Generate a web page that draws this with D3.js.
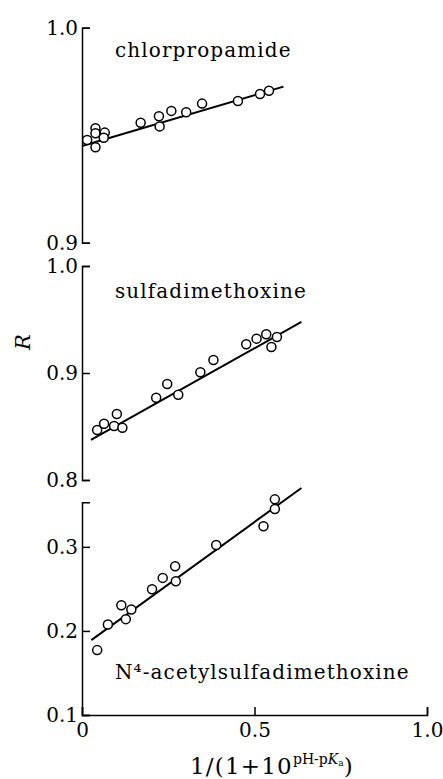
<!DOCTYPE html>
<html lang="en">
<head>
  <meta charset="utf-8">
  <script src="https://d3js.org/d3.v7.min.js"></script>
  <style>
    body { margin: 0; background: #fff; }
    svg { display: block; }
    .axis path, .axis line { fill: none; stroke: #000; stroke-width: 1.5; }
    .axis text { font-family: "DejaVu Serif", serif; font-size: 20px; fill: #000; }
    .label { font-family: "DejaVu Serif", serif; font-size: 20px; fill: #000; letter-spacing: 1.1px; }
  </style>
</head>
<body>
<svg id="chart" width="443" height="779"></svg>
<script>
  // x values shared by all panels: 1/(1+10^(pH-pKa))
  const xTickValues = [0, 0.5, 1.0];
  const xTickLabels = ["0", "0.5", "1.0"];

  // chlorpropamide
  const chlorX = [0.015, 0.039, 0.039, 0.039, 0.066, 0.063, 0.170, 0.223, 0.225, 0.259, 0.302, 0.348, 0.452, 0.516, 0.542];
  const chlorR = [0.9478, 0.9532, 0.9509, 0.9444, 0.9512, 0.9488, 0.9558, 0.9588, 0.9541, 0.9613, 0.9607, 0.9647, 0.9659, 0.9692, 0.9707];
  const chlorFitX = [0, 0.584];
  const chlorFitR = [0.945, 0.9726];
  const chlorTicks = [0.9, 1.0];

  // sulfadimethoxine
  const sulfaX = [0.044, 0.064, 0.093, 0.101, 0.117, 0.215, 0.247, 0.279, 0.343, 0.381, 0.476, 0.506, 0.534, 0.549, 0.565];
  const sulfaR = [0.8467, 0.8526, 0.8505, 0.8617, 0.8489, 0.8769, 0.8897, 0.8797, 0.9007, 0.9121, 0.9268, 0.9321, 0.9362, 0.9243, 0.9336];
  const sulfaFitX = [0.026, 0.636];
  const sulfaFitR = [0.8374, 0.9477];
  const sulfaTicks = [0.8, 0.9, 1.0];

  // N4-acetylsulfadimethoxine
  const acetylX = [0.044, 0.075, 0.114, 0.127, 0.143, 0.203, 0.234, 0.270, 0.272, 0.389, 0.526, 0.559, 0.559];
  const acetylR = [0.1772, 0.2077, 0.2306, 0.2140, 0.2255, 0.2496, 0.2631, 0.2770, 0.2591, 0.3023, 0.3245, 0.3565, 0.3450];
  const acetylFitX = [0.027, 0.636];
  const acetylFitR = [0.189, 0.370];
  const acetylTicks = [0.1, 0.2, 0.3];

  const svg = d3.select("#chart");

  const x = d3.scaleLinear().domain([0, 1]).range([82, 427]);

  const panels = [
    { name: "chlorpropamide", xs: chlorX, ys: chlorR, fx: chlorFitX, fy: chlorFitR,
      ticks: chlorTicks, domain: [0.9, 1.0], range: [242.7, 27.7], labelY: 57 },
    { name: "sulfadimethoxine", xs: sulfaX, ys: sulfaR, fx: sulfaFitX, fy: sulfaFitR,
      ticks: sulfaTicks, domain: [0.8, 1.0], range: [480, 266], labelY: 298 },
    { name: "N⁴-acetylsulfadimethoxine", xs: acetylX, ys: acetylR, fx: acetylFitX, fy: acetylFitR,
      ticks: acetylTicks, domain: [0.1, 0.353], range: [715, 502.3], labelY: 679 }
  ];

  panels.forEach((p) => {
    const y = d3.scaleLinear().domain(p.domain).range(p.range);

    // left axis, ticks point inward
    svg.append("g")
      .attr("class", "axis")
      .attr("transform", `translate(${x(0)},0)`)
      .call(d3.axisLeft(y)
        .tickValues(p.ticks)
        .tickFormat(d3.format(".1f"))
        .tickSizeInner(-8)
        .tickSizeOuter(-8)
        .tickPadding(4));

    // fitted line
    svg.append("line")
      .attr("x1", x(p.fx[0])).attr("y1", y(p.fy[0]))
      .attr("x2", x(p.fx[1])).attr("y2", y(p.fy[1]))
      .attr("stroke", "#000")
      .attr("stroke-width", 2);

    // open circles
    svg.append("g")
      .selectAll("circle")
      .data(p.xs.map((v, i) => [v, p.ys[i]]))
      .join("circle")
      .attr("cx", (d) => x(d[0]))
      .attr("cy", (d) => y(d[1]))
      .attr("r", 4.5)
      .attr("fill", "#fff")
      .attr("stroke", "#000")
      .attr("stroke-width", 1.5);

    svg.append("text")
      .attr("class", "label")
      .attr("x", 115)
      .attr("y", p.labelY)
      .text(p.name);
  });

  // bottom x axis
  svg.append("g")
    .attr("class", "axis")
    .attr("transform", "translate(0,715)")
    .call(d3.axisBottom(x)
      .tickValues(xTickValues)
      .tickFormat((d, i) => xTickLabels[i])
      .tickSizeInner(-8)
      .tickSizeOuter(-8)
      .tickPadding(8));

  // y title
  svg.append("text")
    .attr("transform", "translate(30,342) rotate(-90)")
    .attr("text-anchor", "middle")
    .attr("font-family", "DejaVu Serif, serif")
    .attr("font-style", "italic")
    .attr("font-size", 21)
    .text("R");

  // x title: 1/(1+10^(pH-pKa))
  const xt = svg.append("text")
    .attr("x", 190)
    .attr("y", 774)
    .attr("font-family", "DejaVu Serif, serif")
    .attr("font-size", 23);
  xt.append("tspan").attr("letter-spacing", 1.2).text("1/(1+10");
  xt.append("tspan").attr("font-size", 14).attr("dy", -10).text("pH-p");
  xt.append("tspan").attr("font-size", 14).attr("font-style", "italic").text("K");
  xt.append("tspan").attr("font-size", 9).attr("dy", 2).text("a");
  xt.append("tspan").attr("dy", 8).text(")");
</script>
</body>
</html>
